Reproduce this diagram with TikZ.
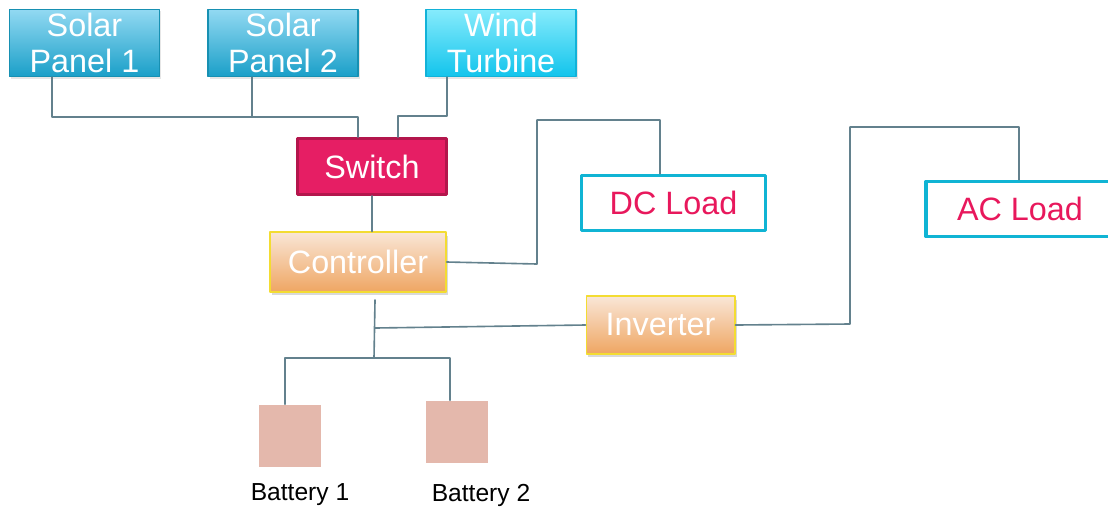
\documentclass[tikz,border=0pt]{standalone}
\usepackage{fontspec}
\setmainfont{Liberation Sans}
\usetikzlibrary{shadows}
\definecolor{wire}{HTML}{63818D}
\definecolor{solartop}{HTML}{92D9F2}
\definecolor{solarbot}{HTML}{1A9FC8}
\definecolor{solarline}{HTML}{1790B2}
\definecolor{windtop}{HTML}{86EBFC}
\definecolor{windbot}{HTML}{12C4EC}
\definecolor{windline}{HTML}{12B2D8}
\definecolor{switchfill}{HTML}{E61E64}
\definecolor{switchline}{HTML}{B3164C}
\definecolor{ctltop}{HTML}{F9E6D6}
\definecolor{ctlbot}{HTML}{EFA663}
\definecolor{ctlline}{HTML}{F3DC32}
\definecolor{loadline}{HTML}{10B4D4}
\definecolor{loadtext}{HTML}{E8185C}
\definecolor{battery}{HTML}{E4B8AC}
\begin{document}
\begin{tikzpicture}[x=0.025cm, y=-0.025cm, line join=round, line cap=round,
	boxfont/.style={font=\fontsize{23}{26}\selectfont, align=center, inner sep=0pt},
	solar/.style={boxfont, draw=solarline, line width=0.8pt, top color=solartop, bottom color=solarbot, text=white,
		minimum width=3.75cm, minimum height=1.68cm, drop shadow={opacity=0.2, shadow xshift=0.04cm, shadow yshift=-0.05cm}},
	wind/.style={solar, draw=windline, top color=windtop, bottom color=windbot},
	switchbox/.style={boxfont, draw=switchline, line width=2pt, fill=switchfill, text=white, minimum width=3.72cm, minimum height=1.4cm},
	ctlbox/.style={boxfont, draw=ctlline, line width=1.4pt, top color=ctltop, bottom color=ctlbot, text=white,
		drop shadow={opacity=0.3, shadow xshift=0.05cm, shadow yshift=-0.08cm}},
	loadbox/.style={boxfont, draw=loadline, line width=2.4pt, fill=white, text=loadtext, minimum height=1.38cm},
	batbox/.style={fill=battery, minimum size=1.55cm, inner sep=0pt},
	batlabel/.style={font=\fontsize{17.5}{20}\selectfont, inner sep=0pt},
	wire/.style={draw=wire, line width=1.15pt}]
	\useasboundingbox (0,0) rectangle (1108,514);
	% sources
	\node[solar] (sp1) at (84.5,43) {Solar\\Panel 1};
	\node[solar] (sp2) at (283,43) {Solar\\Panel 2};
	\node[wind] (wt) at (501,43) {Wind\\Turbine};
	% switching and control
	\node[switchbox] (sw) at (372,166.5) {Switch};
	\node[ctlbox, minimum width=4.38cm, minimum height=1.48cm] (ctl) at (358,262) {Controller};
	\node[ctlbox, minimum width=3.7cm, minimum height=1.43cm] (inv) at (660.5,325) {Inverter};
	% loads
	\node[loadbox, minimum width=4.6cm] (dcl) at (673.5,203) {DC Load};
	\node[loadbox, minimum width=4.7cm] (acl) at (1020,209) {AC Load};
	% batteries
	\node[batbox] (bat1) at (290,435.5) {};
	\node[batbox] (bat2) at (457,431.5) {};
	\node[batlabel] (lb1) at (300,495) {Battery 1};
	\node[batlabel] (lb2) at (481,495) {Battery 2};
	% bends
	\path (52,117) coordinate (b1)
		(252,117) coordinate (b2)
		(358,117) coordinate (b3)
		(447,116) coordinate (b4)
		(398,116) coordinate (b5)
		(537,264) coordinate (c1)
		(537,120) coordinate (c2)
		(660,120) coordinate (c3)
		(375,300) coordinate (d0)
		(375,328) coordinate (d1)
		(374,358) coordinate (d2)
		(285,358) coordinate (d3)
		(450,358) coordinate (d4)
		(850,324) coordinate (e1)
		(850,127) coordinate (e2)
		(1019,127) coordinate (e3);
	\draw[wire] (sp1.south -| b1) -- (b1) -- (b3) -- (b3 |- sw.north);
	\draw[wire] (sp2.south -| b2) -- (b2);
	\draw[wire] (wt.south -| b4) -- (b4) -- (b5) -- (b5 |- sw.north);
	\draw[wire] (sw.south) -- (sw.south |- ctl.north);
	\draw[wire] (ctl.east) -- (c1) -- (c2) -- (c3) -- (c3 |- dcl.north);
	\draw[wire] (d0) -- (d2);
	\draw[wire] (d1) -- (inv.west);
	\draw[wire] (d3 |- bat1.north) -- (d3) -- (d4) -- (d4 |- bat2.north);
	\draw[wire] (inv.east) -- (e1) -- (e2) -- (e3) -- (e3 |- acl.north);
\end{tikzpicture}
\end{document}
